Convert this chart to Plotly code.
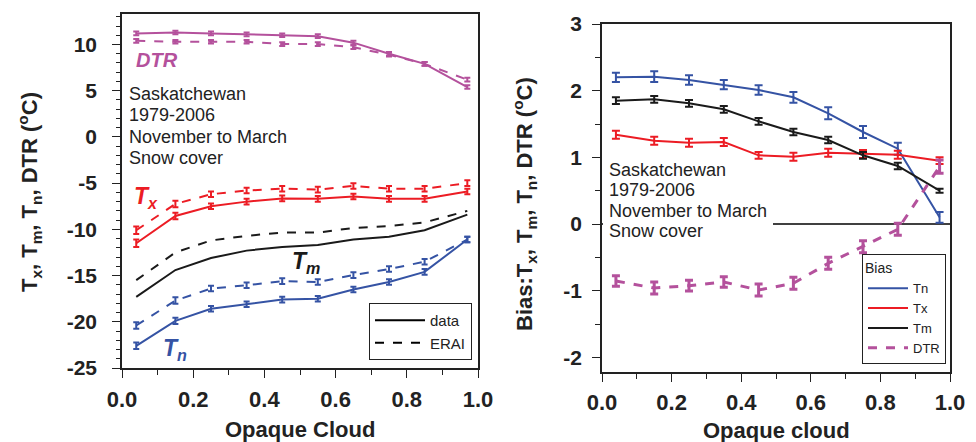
import plotly.graph_objects as go

# ---------------- data ----------------
cloud = [0.04, 0.15, 0.25, 0.35, 0.45, 0.55, 0.65, 0.75, 0.85, 0.97]

# left panel: observed (data) and ERAI
dtr_data = [11.2, 11.3, 11.2, 11.1, 11.0, 10.9, 10.2, 9.0, 7.9, 5.4]
dtr_erai = [10.4, 10.3, 10.3, 10.3, 10.05, 10.05, 9.7, 8.9, 7.9, 6.2]
tx_data = [-11.5, -8.55, -7.5, -7.0, -6.65, -6.7, -6.45, -6.7, -6.7, -5.9]
tx_erai = [-10.1, -7.25, -6.2, -5.8, -5.6, -5.7, -5.3, -5.6, -5.6, -5.0]
tm_data = [-17.3, -14.4, -13.1, -12.3, -11.9, -11.7, -11.1, -10.8, -10.1, -8.4]
tm_erai = [-15.5, -12.5, -11.2, -10.7, -10.35, -10.35, -9.85, -9.65, -9.25, -8.0]
tn_data = [-22.6, -19.9, -18.6, -18.1, -17.6, -17.5, -16.5, -15.7, -14.6, -11.1]
tn_erai = [-20.4, -17.7, -16.4, -16.05, -15.6, -15.7, -14.95, -14.3, -13.5, -11.1]
err_dtr_left = [0.2] * 10
err_tx_left = [0.4, 0.35, 0.3, 0.3, 0.3, 0.3, 0.3, 0.3, 0.3, 0.3]
err_tn_left = [0.35, 0.35, 0.3, 0.3, 0.3, 0.3, 0.3, 0.3, 0.3, 0.3]

# right panel: bias
bias_tn = [2.20, 2.21, 2.16, 2.09, 2.01, 1.90, 1.66, 1.38, 1.13, 0.10]
bias_tx = [1.34, 1.25, 1.22, 1.23, 1.03, 1.01, 1.07, 1.05, 1.04, 0.95]
bias_tm = [1.85, 1.87, 1.81, 1.72, 1.54, 1.38, 1.26, 1.03, 0.87, 0.50]
bias_dtr = [-0.855, -0.96, -0.925, -0.87, -0.99, -0.89, -0.59, -0.34, -0.08, 0.86]
err_bias_tn = [0.07, 0.08, 0.07, 0.07, 0.07, 0.08, 0.09, 0.09, 0.09, 0.08]
err_bias_tx = [0.06, 0.06, 0.06, 0.06, 0.05, 0.06, 0.06, 0.06, 0.06, 0.05]
err_bias_tm = [0.05, 0.05, 0.05, 0.05, 0.05, 0.05, 0.05, 0.05, 0.05, 0.03]
err_bias_dtr = [0.08, 0.09, 0.08, 0.08, 0.09, 0.09, 0.09, 0.09, 0.09, 0.1]

# tick labels
left_yticks = [-25, -20, -15, -10, -5, 0, 5, 10]
left_ylabels = ["-25", "-20", "-15", "-10", "-5", "0", "5", "10"]
right_yticks = [-2, -1, 0, 1, 2, 3]
right_ylabels = ["-2", "-1", "0", "1", "2", "3"]

info_lines = ["Saskatchewan", "1979-2006", "November to March", "Snow cover"]

BLUE = "#3553a4"
RED = "#ec1c24"
BLACK = "#1a1a1a"
MAG = "#b4519c"
INK = "#222222"
FONT = "Arial, Liberation Sans, sans-serif"

fig = go.Figure()


def add_left(y, color, dash, err=None, width=2):
    kw = {}
    if err is not None:
        kw["error_y"] = dict(type="data", array=err, visible=True, color=color,
                             thickness=2, width=3)
    fig.add_trace(go.Scatter(x=cloud, y=y, mode="lines",
                             line=dict(color=color, width=width, dash=dash),
                             xaxis="x", yaxis="y", showlegend=False, **kw))


add_left(dtr_erai, MAG, "dash", err_dtr_left)
add_left(dtr_data, MAG, "solid", err_dtr_left)
add_left(tx_erai, RED, "dash", err_tx_left)
add_left(tx_data, RED, "solid", err_tx_left)
add_left(tm_erai, BLACK, "dash")
add_left(tm_data, BLACK, "solid")
add_left(tn_erai, BLUE, "dash", err_tn_left)
add_left(tn_data, BLUE, "solid", err_tn_left)

# legend entries for left panel
fig.add_trace(go.Scatter(x=[None], y=[None], mode="lines", name="data",
                         line=dict(color="black", width=2), xaxis="x", yaxis="y",
                         legend="legend"))
fig.add_trace(go.Scatter(x=[None], y=[None], mode="lines", name="ERAI",
                         line=dict(color="black", width=2, dash="dash"),
                         xaxis="x", yaxis="y", legend="legend"))


def add_right(y, err, color, name, dash="solid", width=2):
    fig.add_trace(go.Scatter(x=cloud, y=y, mode="lines", name=name,
                             line=dict(color=color, width=width, dash=dash),
                             error_y=dict(type="data", array=err, visible=True,
                                          color=color, thickness=width, width=4),
                             xaxis="x2", yaxis="y2", legend="legend2"))


add_right(bias_tn, err_bias_tn, BLUE, "Tn")
add_right(bias_tx, err_bias_tx, RED, "Tx")
add_right(bias_tm, err_bias_tm, BLACK, "Tm")
add_right(bias_dtr, err_bias_dtr, MAG, "DTR", dash="dash", width=3)

# the page body has an 8px margin; lay out in window pixels
OFF = 8
W, H = 976 - OFF, 442 - OFF

# right panel frame in window pixels and its value ranges
R_X0, R_X1, R_YT, R_YB = 602, 950, 24, 372
R_YMIN, R_YMAX = -2.22, 3


def px(x):
    return (x - OFF) / W


def py(y):
    return 1 - (y - OFF) / H


def rx(xpix):  # window pixel -> right-panel x data units
    return (xpix - R_X0) / (R_X1 - R_X0)


def ry(ypix):  # window pixel -> right-panel y data units
    return R_YMAX - (ypix - R_YT) / (R_YB - R_YT) * (R_YMAX - R_YMIN)


def axis_common(size):
    return dict(showline=True, linecolor=INK, linewidth=1.5, mirror=True,
                ticks="outside", ticklen=8, tickwidth=1.2, tickcolor=INK,
                showgrid=False, zeroline=False,
                tickfont=dict(family=FONT, size=size, color=INK, weight="bold"),
                automargin=False)


def ann(x, y, text, size, color=INK, **kw):
    d = dict(x=px(x), y=py(y), xref="paper", yref="paper", showarrow=False,
             xanchor="center", yanchor="middle", text=text,
             font=dict(family=FONT, size=size, color=color))
    d.update(kw)
    return d


annotations = [
    ann(157, 60, "<b><i>DTR</i></b>", 20, MAG),
    ann(146, 197, "<b><i>T<sub>x</sub></i></b>", 23, RED),
    ann(306, 263, "<b><i>T<sub>m</sub></i></b>", 23, BLACK),
    ann(175, 349, "<b><i>T<sub>n</sub></i></b>", 23, BLUE),
    ann(30, 192, "<b>T<sub>x</sub>, T<sub>m</sub>, T<sub>n</sub>, DTR (<sup>o</sup>C)</b>",
        22, textangle=-90),
    ann(524, 204, "<b>Bias:T<sub>x</sub>, T<sub>m</sub>, T<sub>n</sub>, DTR (<sup>o</sup>C)</b>",
        22, textangle=-90),
    ann(300, 429, "<b>Opaque Cloud</b>", 22),
    ann(776, 430, "<b>Opaque cloud</b>", 22),
]
for i, line in enumerate(info_lines):
    annotations.append(ann(127, 94 + 21.3 * i, line, 18, xanchor="left"))
    annotations.append(ann(607, 170 + 20.3 * i, line, 18, xanchor="left"))

fig.update_layout(
    width=W, height=H,
    margin=dict(l=0, r=0, t=0, b=0),
    paper_bgcolor="white", plot_bgcolor="white",
    font=dict(family=FONT, color=INK),
    xaxis=dict(domain=[px(122), px(478)], range=[0, 1], dtick=0.2, tickformat=".1f",
               minor=dict(dtick=0.1, ticklen=5, ticks="outside", tickcolor=INK),
               anchor="y", ticklabelstandoff=3, **axis_common(22)),
    yaxis=dict(domain=[py(368), py(14)], range=[-25, 13.3],
               tickmode="array", tickvals=left_yticks, ticktext=left_ylabels,
               minor=dict(dtick=1, ticklen=4, ticks="outside", tickcolor=INK),
               anchor="x", ticklabelstandoff=11, **axis_common(21)),
    xaxis2=dict(domain=[px(R_X0), px(R_X1)], range=[0, 1], dtick=0.2, tickformat=".1f",
                minor=dict(dtick=0.1, ticklen=5, ticks="outside", tickcolor=INK),
                anchor="y2", ticklabelstandoff=2, **axis_common(22)),
    yaxis2=dict(domain=[py(R_YB), py(R_YT)], range=[R_YMIN, R_YMAX],
                tickmode="array", tickvals=right_yticks, ticktext=right_ylabels,
                minor=dict(dtick=0.5, ticklen=5, ticks="outside", tickcolor=INK),
                anchor="x2", ticklabelstandoff=6, **axis_common(21)),
    shapes=[
        dict(type="line", xref="x2", yref="y2", x0=0, x1=1, y0=0, y1=0,
             line=dict(color="black", width=1.5), layer="below"),
        dict(type="rect", xref="x2", yref="y2", x0=rx(603), x1=rx(773),
             y0=ry(243), y1=ry(158), fillcolor="white", line=dict(width=0),
             layer="below"),
    ],
    legend=dict(x=px(472), y=py(360), xanchor="right", yanchor="bottom",
                bgcolor="white", bordercolor=INK, borderwidth=1,
                font=dict(family=FONT, size=15, color=INK),
                tracegroupgap=0, itemwidth=50),
    legend2=dict(x=px(946), y=py(364), xanchor="right", yanchor="bottom",
                 bgcolor="white", bordercolor=INK, borderwidth=1,
                 title=dict(text="Bias", font=dict(family=FONT, size=14, color=INK)),
                 font=dict(family=FONT, size=13, color=INK),
                 tracegroupgap=0, itemwidth=40),
    annotations=annotations,
)

fig.write_html("out.html")
